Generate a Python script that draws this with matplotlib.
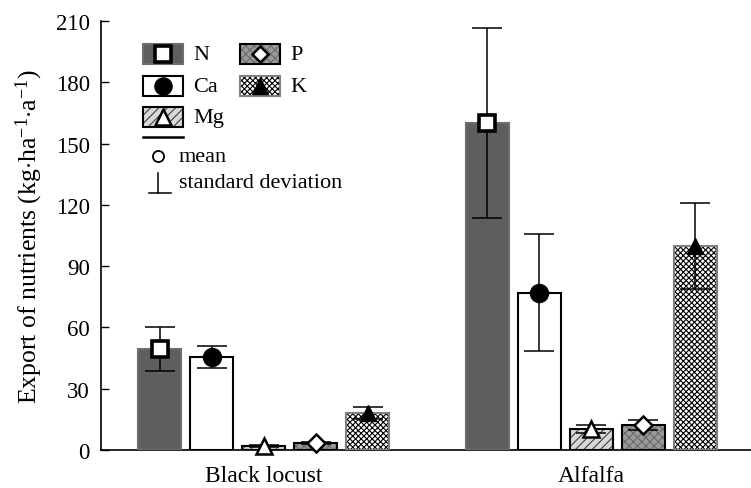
import numpy as np
import matplotlib
matplotlib.use("Agg")
import matplotlib.pyplot as plt
from matplotlib.patches import Rectangle
from matplotlib.lines import Line2D

# data
groups = ["Black locust", "Alfalfa"]
nutrients = ["N", "Ca", "Mg", "P", "K"]
mean_bl = [49.5, 45.5, 2.0, 3.2, 18.0]
sd_bl = [10.8, 5.4, 0.6, 0.5, 2.9]
mean_al = [160.0, 77.0, 10.2, 12.3, 100.0]
sd_al = [46.5, 28.5, 2.1, 2.6, 21.0]

plt.rcParams["font.family"] = ["Liberation Serif", "DejaVu Serif"]
plt.rcParams["mathtext.fontset"] = "custom"
plt.rcParams["mathtext.rm"] = "Liberation Serif"
plt.rcParams["mathtext.it"] = "Liberation Serif:italic"
plt.rcParams["hatch.linewidth"] = 0.8

# bar styles: face, hatch, hatch colour, edge colour, marker, marker face
styles = {
    "N":  dict(fc="#5e5e5e", hatch=None, hc="#5e5e5e", ec="#6e6e6e", m="s", mfc="white", ms=12, mew=2.6),
    "Ca": dict(fc="white", hatch=None, hc="white", ec="black", m="o", mfc="black", ms=13, mew=1),
    "Mg": dict(fc="#d8d8d8", hatch="////", hc="#404040", ec="black", m="^", mfc="white", ms=12, mew=1.8),
    "P":  dict(fc="#9a9a9a", hatch="xxxx", hc="#6a6a6a", ec="black", m="D", mfc="white", ms=9, mew=1.8),
    "K":  dict(fc="white", hatch="xxxxxx", hc="black", ec="#808080", m="^", mfc="black", ms=12, mew=1),
}

W, H = 751, 489
fig = plt.figure(figsize=(W / 100, H / 100), dpi=100)
ax = fig.add_axes([101 / W, 1 - 451 / H, 650 / W, (451 - 22) / H])

centers = np.array([0.0, 6.3])
width = 0.83
means = [mean_bl, mean_al]
sds = [sd_bl, sd_al]

for gi, g in enumerate(centers):
    for ni, nut in enumerate(nutrients):
        st = styles[nut]
        x = g + ni - 2
        m = means[gi][ni]
        s = sds[gi][ni]
        # fill + hatch
        ax.bar(x, m, width, color=st["fc"], hatch=st["hatch"], edgecolor=st["hc"], linewidth=0, zorder=2)
        # outline
        ax.bar(x, m, width, color="none", edgecolor=st["ec"], linewidth=1.5, zorder=3)
        ax.errorbar(x, m, yerr=s, fmt="none", ecolor="black", elinewidth=1.1, capsize=11, capthick=1.1, zorder=4)
        ax.plot(x, m, marker=st["m"], ms=st["ms"], mfc=st["mfc"], mec="black", mew=st["mew"], ls="none", zorder=5, clip_on=False)

ax.set_xlim(-3.13, 9.37)
ax.set_ylim(0, 210)
ax.set_yticks(np.arange(0, 211, 30))
ax.set_xticks(centers)
ax.set_xticklabels(groups)
ax.tick_params(axis="x", length=0, pad=11, labelsize=17)
ax.tick_params(axis="y", direction="in", length=6, width=1, labelsize=16.5, pad=8)
for sp in ["top", "right"]:
    ax.spines[sp].set_visible(False)
for sp in ["left", "bottom"]:
    ax.spines[sp].set_linewidth(1.2)
ax.set_ylabel("Export of nutrients (kg$\\cdot$ha$^{-1}$$\\cdot$a$^{-1}$)", fontsize=18.5, labelpad=8)


# hand-made legend, placed in pixels
def fx(px):
    return px / W


def fy(py):
    return 1 - py / H


legend_pos = {"N": (143, 55), "Ca": (143, 87), "Mg": (143, 118), "P": (240, 55), "K": (240, 87)}
for nut, (lx, ly) in legend_pos.items():
    st = styles[nut]
    r = Rectangle((fx(lx), fy(ly + 10)), 40 / W, 20 / H, transform=fig.transFigure,
                  facecolor=st["fc"], hatch=st["hatch"], edgecolor=st["hc"], linewidth=0)
    fig.add_artist(r)
    r2 = Rectangle((fx(lx), fy(ly + 10)), 40 / W, 20 / H, transform=fig.transFigure,
                   facecolor="none", edgecolor=st["ec"], linewidth=1.5)
    fig.add_artist(r2)
    fig.add_artist(Line2D([fx(lx + 20)], [fy(ly)], transform=fig.transFigure, marker=st["m"],
                          ms=st["ms"] * 0.95, mfc=st["mfc"], mec="black", mew=st["mew"], ls="none"))
    fig.text(fx(lx + 50), fy(ly), nut, fontsize=16, va="center", ha="left")

fig.add_artist(Line2D([fx(143), fx(183)], [fy(138), fy(138)], transform=fig.transFigure, color="black", lw=1.8))
fig.add_artist(Line2D([fx(158)], [fy(157)], transform=fig.transFigure, marker="o", ms=8,
                      mfc="white", mec="black", mew=1.3, ls="none"))
fig.text(fx(179), fy(157), "mean", fontsize=16, va="center", ha="left")
fig.add_artist(Line2D([fx(158), fx(158)], [fy(174), fy(194)], transform=fig.transFigure, color="black", lw=1.1))
fig.add_artist(Line2D([fx(149), fx(171)], [fy(194), fy(194)], transform=fig.transFigure, color="black", lw=1.1))
fig.text(fx(179), fy(184), "standard deviation", fontsize=16, va="center", ha="left")

fig.savefig("out.png", dpi=100)
